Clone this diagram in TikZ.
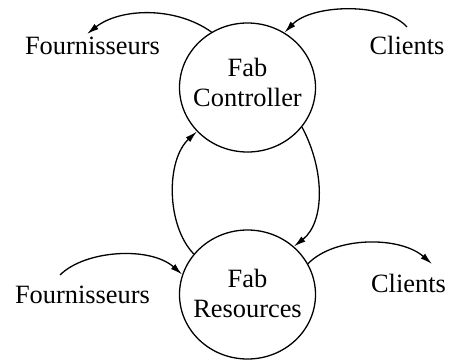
\documentclass[tikz,border=0pt]{standalone}
\usepackage{fontspec}
\setmainfont{Liberation Serif}
\newfontfamily\labfont{Liberation Serif}
\usetikzlibrary{shapes.geometric,arrows.meta}
\begin{document}
\begin{tikzpicture}[x=1pt,y=-1pt,
  proc/.style={draw, ellipse, line width=1.3pt, minimum width=136pt, minimum height=129pt, inner sep=0pt},
  lab/.style={font=\labfont\fontsize{26.4}{30}\selectfont, inner sep=0pt, text=black},
  flow/.style={draw=black, line width=1.3pt, -{Latex[length=12pt,width=6.5pt]}}]
\useasboundingbox (0,0) rectangle (449,360);
\node[proc] (T) at (247.5,87.5) {};
\node[proc] (B) at (247.5,294.5) {};
\node[lab, align=center] (Tt) at (247.5,82) {Fab\\Controller};
\node[lab, align=center] (Bt) at (247.5,293) {Fab\\Resources};
\node[lab, anchor=base] (F1) at (92.5,54) {Fournisseurs};
\node[lab, anchor=base] (C1) at (407,54) {Clients};
\node[lab, anchor=base] (F2) at (82.5,303) {Fournisseurs};
\node[lab, anchor=base] (C2) at (408.5,292) {Clients};
\coordinate (f1) at (87,34);
\coordinate (c1) at (407,27);
\coordinate (f2) at (60,275);
\coordinate (c2) at (432,264);
\draw[flow] (T.123) .. controls (175,6) and (120,8) .. (f1);
\draw[flow] (c1) .. controls (385,2) and (312,4) .. (T.56);
\draw[flow] (B.143) .. controls (166,225) and (166,160) .. (T.221);
\draw[flow] (T.324) .. controls (325,170) and (325,222) .. (B.46);
\draw[flow] (f2) .. controls (85,250) and (150,246) .. (B.163);
\draw[flow] (B.27) .. controls (335,236) and (400,236) .. (c2);
\end{tikzpicture}
\end{document}
